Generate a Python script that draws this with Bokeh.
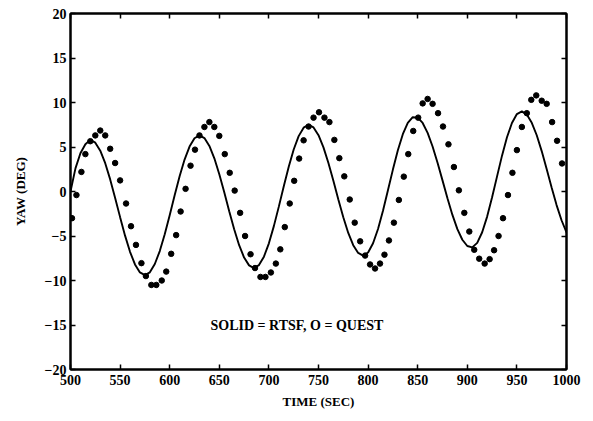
from bokeh.plotting import figure
from bokeh.models import LinearAxis, Range1d
from bokeh.core.properties import value
from bokeh.embed import file_html
from bokeh.resources import INLINE

# ---- data ----
rtsf_time = [500, 505, 510, 515, 520, 525, 530, 535, 540, 545, 550, 555, 560, 565, 570,
             575, 580, 585, 590, 595, 600, 605, 610, 615, 620, 625, 630, 635, 640, 645,
             650, 655, 660, 665, 670, 675, 680, 685, 690, 695, 700, 705, 710, 715, 720,
             725, 730, 735, 740, 745, 750, 755, 760, 765, 770, 775, 780, 785, 790, 795,
             800, 805, 810, 815, 820, 825, 830, 835, 840, 845, 850, 855, 860, 865, 870,
             875, 880, 885, 890, 895, 900, 905, 910, 915, 920, 925, 930, 935, 940, 945,
             950, 955, 960, 965, 970, 975, 980, 985, 990, 995, 1000]
rtsf_yaw = [0.0, 2.6, 4.3, 5.3, 5.8, 5.49, 4.59, 3.18, 1.36, -0.72, -2.88, -4.96, -6.78, -8.19, -9.09,
            -9.4, -9.08, -8.15, -6.69, -4.81, -2.67, -0.43, 1.71, 3.59, 5.05, 5.98, 6.3, 6.0, 5.12, 3.73,
            1.94, -0.09, -2.21, -4.24, -6.03, -7.42, -8.3, -8.6, -8.27, -7.32, -5.82, -3.89, -1.7, 0.6, 2.79,
            4.72, 6.22, 7.17, 7.5, 7.2, 6.33, 4.96, 3.2, 1.2, -0.9, -2.9, -4.66, -6.03, -6.9, -7.2,
            -6.85, -5.82, -4.21, -2.17, 0.13, 2.46, 4.63, 6.44, 7.71, 8.35, 8.3, 7.7, 6.59, 5.06, 3.24,
            1.25, -0.76, -2.63, -4.23, -5.42, -6.12, -6.28, -5.77, -4.58, -2.82, -0.65, 1.7, 4.03, 6.09, 7.7,
            8.7, 9.0, 8.64, 7.72, 6.32, 4.54, 2.53, 0.46, -1.53, -3.23, -4.6]

quest_time = [501.5, 506, 511, 515, 520, 525, 530, 535, 540, 545, 550, 556, 561, 566, 571.5,
              576, 581.5, 586.5, 592, 596.5, 601.5, 606.5, 611, 616, 621, 625.5, 630, 635, 640, 645,
              650, 655.5, 660.5, 665.5, 671, 676, 681.5, 686, 691.5, 696.5, 702, 707, 711.5, 716, 721,
              725.5, 730.5, 735, 740, 745, 750.5, 756, 761, 766, 771, 776, 781.5, 786.5, 792, 797,
              802, 807, 812, 816.5, 821, 826, 831, 836, 840.5, 845.5, 850.5, 855, 860, 865, 870.5,
              875.5, 881, 886.5, 891.5, 897, 902, 907, 912, 917.5, 922.5, 927, 931.5, 936, 941, 945.5,
              950, 955, 960, 964.5, 969.5, 975, 980, 985.5, 990.5, 995.5]
quest_yaw = [-3.0, -0.4, 2.2, 4.2, 5.65, 6.3, 6.85, 6.3, 4.8, 3.2, 1.25, -1.35, -3.9, -6.0, -8.05,
             -9.5, -10.5, -10.5, -10.0, -9.0, -7.0, -4.9, -2.25, 0.3, 2.9, 4.7, 6.3, 7.25, 7.8, 7.25,
             6.25, 4.2, 2.1, 0.1, -2.4, -5.0, -7.05, -8.6, -9.6, -9.6, -9.1, -8.1, -6.5, -4.0, -1.35,
             1.2, 3.7, 5.75, 7.3, 8.3, 8.9, 8.3, 7.8, 5.8, 3.75, 1.7, -0.9, -3.5, -5.6, -7.2,
             -8.2, -8.65, -8.1, -7.1, -5.5, -3.5, -0.95, 1.67, 4.2, 6.8, 8.3, 9.9, 10.4, 9.85, 8.8,
             7.3, 5.3, 2.75, 0.13, -2.4, -4.5, -6.55, -7.55, -8.1, -7.6, -6.6, -5.0, -3.0, -0.4, 2.1,
             4.65, 7.25, 8.8, 10.3, 10.8, 10.2, 9.85, 7.8, 5.7, 3.15]

x_ticks = [500, 550, 600, 650, 700, 750, 800, 850, 900, 950, 1000]
y_ticks = [-20, -15, -10, -5, 0, 5, 10, 15, 20]
x_label = "TIME (SEC)"
y_label = "YAW (DEG)"
note_text = "SOLID = RTSF,  O = QUEST"

FONT = "Liberation Serif"

p = figure(width=593, height=421,
           x_range=Range1d(500, 1000), y_range=Range1d(-20, 20),
           output_backend="svg", toolbar_location=None,
           min_border_left=70, min_border_right=27,
           min_border_top=13, min_border_bottom=52)
p.xaxis.visible = False
p.yaxis.visible = False
p.grid.visible = False
p.outline_line_color = "black"
p.outline_line_width = 2
p.background_fill_color = "white"
p.border_fill_color = "white"


def style(ax, labels=True):
    ax.major_tick_in = 5
    ax.major_tick_out = 0
    ax.minor_tick_in = 0
    ax.minor_tick_out = 0
    ax.axis_line_width = 2
    ax.axis_line_color = "black"
    ax.major_tick_line_width = 1.5
    ax.major_tick_line_color = "black"
    if labels:
        ax.major_label_text_font = FONT
        ax.major_label_text_font_style = "bold"
        ax.major_label_text_font_size = "14px"
        ax.major_label_text_color = "black"
    else:
        # tick marks only: labels are not drawn at all
        ax.major_label_text_color = None
        ax.major_label_text_font_size = "1px"
        ax.major_label_standoff = 0


bottom = LinearAxis(ticker=x_ticks, axis_label=x_label)
style(bottom)
bottom.major_label_standoff = 5
bottom.axis_label_standoff = 6
bottom.axis_label_text_font = FONT
bottom.axis_label_text_font_style = "bold"
bottom.axis_label_text_font_size = "13px"
bottom.axis_label_text_color = "black"
p.add_layout(bottom, "below")

left = LinearAxis(ticker=y_ticks, axis_label=y_label)
style(left)
left.major_label_standoff = 4
left.axis_label_standoff = 14
left.axis_label_text_font = FONT
left.axis_label_text_font_style = "bold"
left.axis_label_text_font_size = "13px"
left.axis_label_text_color = "black"
p.add_layout(left, "left")

top = LinearAxis(ticker=x_ticks)
style(top, labels=False)
p.add_layout(top, "above")

right = LinearAxis(ticker=y_ticks)
style(right, labels=False)
p.add_layout(right, "right")

p.line(rtsf_time, rtsf_yaw, line_color="black", line_width=1.9)
p.scatter(quest_time, quest_yaw, size=5.5, marker="circle",
          fill_color="black", line_color="black")

p.text(x=[730], y=[-15.1], text=[note_text], text_align="center",
       text_baseline="middle", text_font=value(FONT), text_font_style="bold",
       text_font_size="14px", text_color="black")

open("out.html", "w").write(file_html(p, INLINE))
